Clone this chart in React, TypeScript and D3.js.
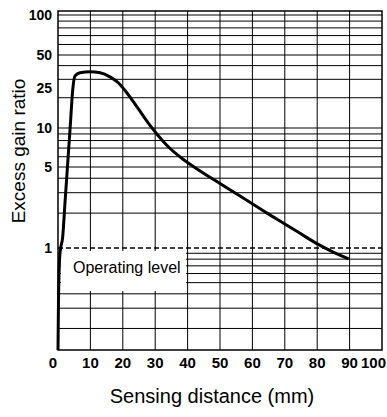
import React from "react";
import * as d3 from "d3";

const curveX = [0, 0.15, 0.6, 1.45, 2.22, 2.99, 3.77, 4.54, 5.25, 6.8, 9.9, 13.0, 16.05, 18.6, 20.7, 23.2, 26.3, 28.4, 30.5, 33.5, 38.7, 42.8, 50.0, 56.2, 64.5, 69.75, 74.7, 79.9, 85.1, 89.7];
const curveY = [0.13, 0.35, 0.9, 1.25, 2.6, 5.34, 10.3, 23.9, 32.2, 34.5, 35.2, 34.5, 31.6, 27.9, 23.6, 18.4, 13.2, 10.6, 8.99, 7.39, 5.71, 4.83, 3.6, 2.81, 2.0, 1.63, 1.34, 1.09, 0.918, 0.806];

const xTicks = [0, 10, 20, 30, 40, 50, 60, 70, 80, 90, 100];
const yTicks = [1, 5, 10, 25, 50, 100];
const yGrid = [0.2, 0.3, 0.4, 0.5, 0.6, 0.7, 0.8, 0.9, 2, 3, 4, 5, 6, 7, 8, 9, 10, 20, 30, 40, 50, 60, 70, 80, 90, 100];
const operatingLevel = 1;

const W = 387;
const H = 417;
const left = 58;
const right = 382;
const top = 11;
const bottom = 350;

export default function App() {
  const x = d3.scaleLinear().domain([0, 100]).range([left, right]);
  const y = d3
    .scaleLog()
    .domain([0.13, 1, 5, 10, 25, 50, 100])
    .range([bottom, 248, 167, 128, 88, 55, 15]);

  const pts: [number, number][] = curveX.map((v, i) => [v, curveY[i]]);
  const line = d3
    .line<[number, number]>()
    .x((d) => x(d[0]))
    .y((d) => y(d[1]))
    .curve(d3.curveMonotoneX);

  const font = "'Liberation Sans', Arial, Helvetica, sans-serif";

  return (
    <svg
      width={W}
      height={H}
      style={{ position: "absolute", left: 0, top: 0, background: "#fff" }}
      fontFamily={font}
    >
      <rect x={0} y={0} width={W} height={H} fill="#fff" />
      {yGrid.map((v) => (
        <line key={"h" + v} x1={left} x2={right} y1={y(v)} y2={y(v)} stroke="#000" strokeWidth={1} />
      ))}
      {xTicks.slice(1, -1).map((v) => (
        <line key={"v" + v} x1={x(v)} x2={x(v)} y1={top} y2={bottom} stroke="#000" strokeWidth={1} />
      ))}
      <rect x={61} y={251} width={125} height={40} fill="#fff" />
      <rect x={left} y={top} width={right - left} height={bottom - top} fill="none" stroke="#000" strokeWidth={1.5} />
      <line
        x1={x(0)}
        x2={x(100)}
        y1={y(operatingLevel)}
        y2={y(operatingLevel)}
        stroke="#000"
        strokeWidth={1.5}
        strokeDasharray="5,3"
      />
      <text x={73} y={273} fontSize={16} fill="#000">
        Operating level
      </text>
      <path d={line(pts) || ""} fill="none" stroke="#000" strokeWidth={3} strokeLinejoin="round" />
      {yTicks.map((v) => (
        <text key={"yt" + v} x={52} y={y(v)} dy="0.35em" textAnchor="end" fontSize={14} fontWeight="bold" fill="#000">
          {v}
        </text>
      ))}
      {xTicks.map((v) => (
        <text
          key={"xt" + v}
          x={v === 100 ? W - 1 : v === 0 ? x(v) - 5 : x(v)}
          y={368}
          textAnchor={v === 100 ? "end" : "middle"}
          fontSize={15}
          fontWeight="bold"
          fill="#000"
        >
          {v}
        </text>
      ))}
      <text x={212} y={403} textAnchor="middle" fontSize={20} fill="#000">
        Sensing distance (mm)
      </text>
      <text transform="translate(25,151) rotate(-90)" textAnchor="middle" fontSize={19} fill="#000">
        Excess gain ratio
      </text>
    </svg>
  );
}
